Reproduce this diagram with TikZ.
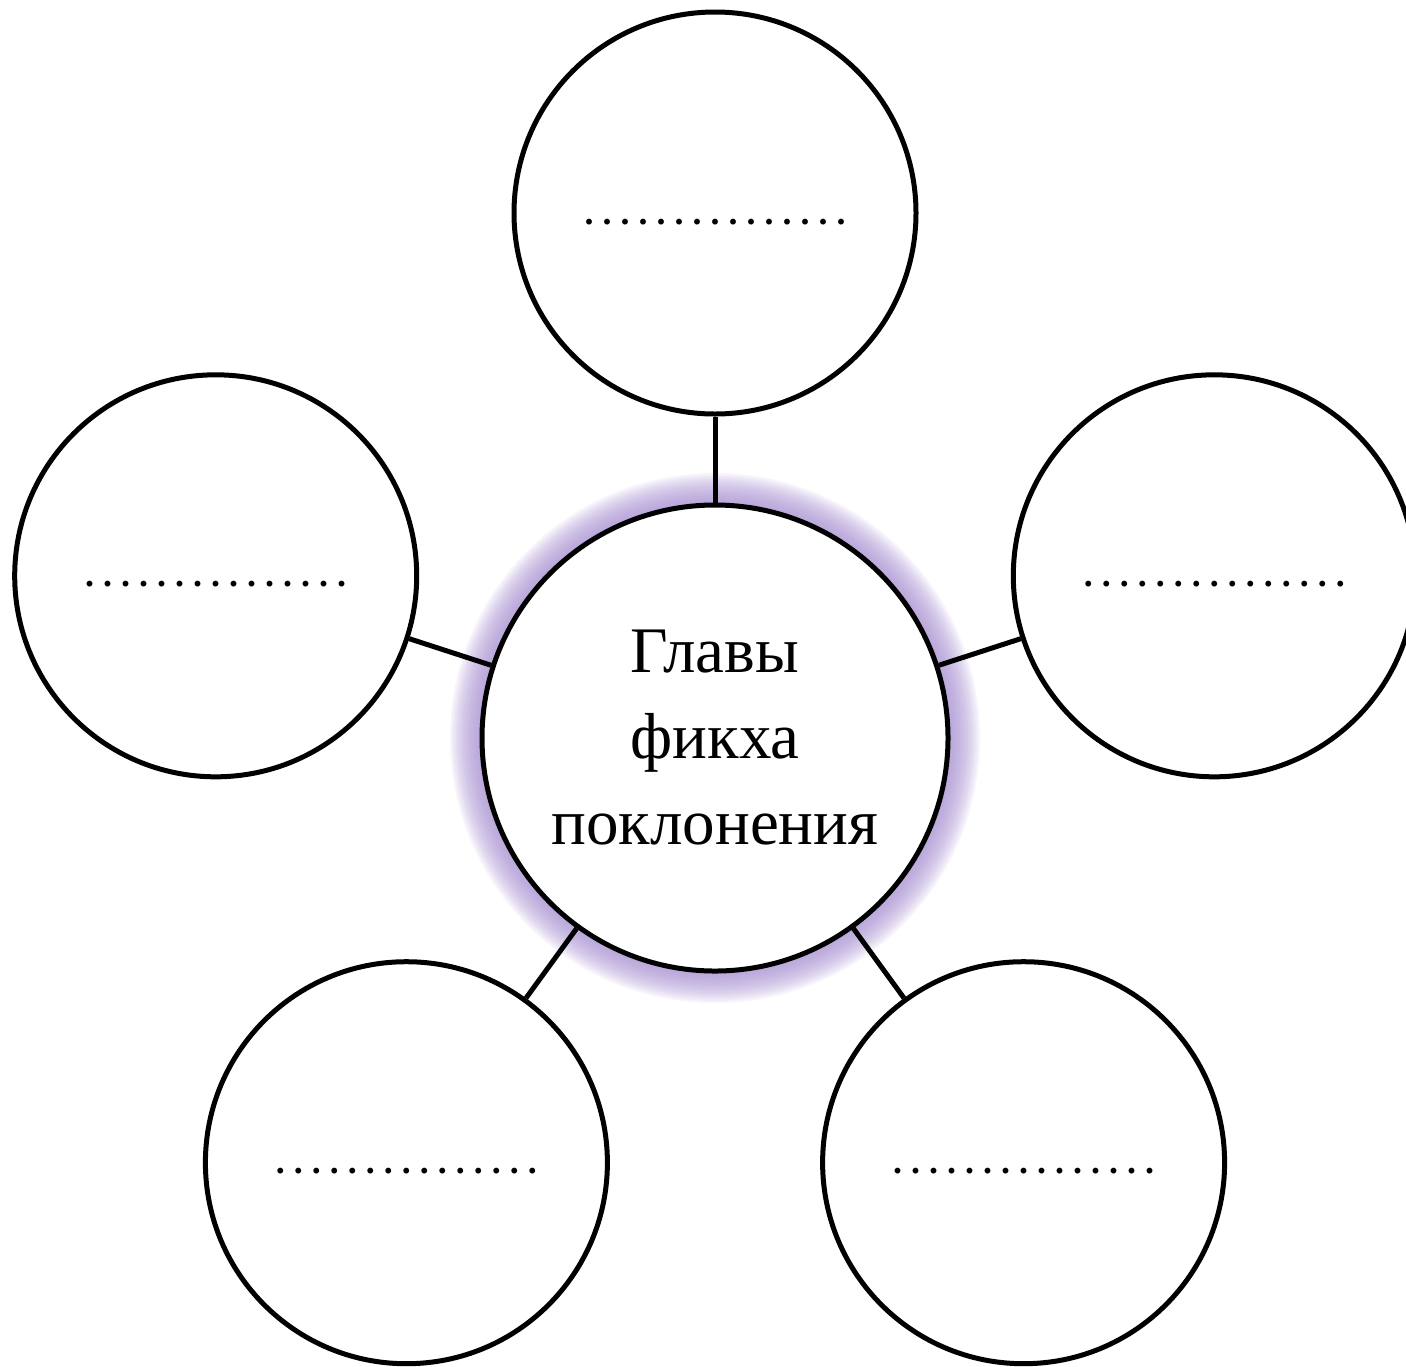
\documentclass[tikz,border=0pt]{standalone}
\usepackage{fontspec}
\setmainfont{Liberation Serif}
\usetikzlibrary{backgrounds}
\definecolor{glowc}{RGB}{166,142,208}
\begin{document}
\begin{tikzpicture}[x=0.5pt,y=-0.5pt,
  outer/.style={circle, draw, line width=2.5pt, fill=white, minimum size=201pt, inner sep=0pt,
    font=\fontsize{18}{20}\selectfont\bfseries\frenchspacing, text height=11pt, text depth=0pt},
  hub/.style={circle, draw, line width=2.5pt, fill=white, minimum size=233pt, inner sep=0pt,
    align=center, font=\fontsize{32.5}{43}\selectfont},
  link/.style={line width=2.5pt},
  glowring/.style={fill=glowc, fill opacity=0.09}]
\useasboundingbox (0,0) rectangle (1406,1366);
\clip (0,0) rectangle (1406,1366);
\node[hub] (hub) at (715,738) {Главы\\фикха\\поклонения};
\node[outer] (top) at (715,213) {. . . . . . . . . . . . . . .};
\node[outer] (left) at (215.7,575.8) {. . . . . . . . . . . . . . .};
\node[outer] (right) at (1214.3,575.8) {. . . . . . . . . . . . . . .};
\node[outer] (bl) at (406.4,1162.7) {. . . . . . . . . . . . . . .};
\node[outer] (br) at (1023.6,1162.7) {. . . . . . . . . . . . . . .};
\begin{scope}[on background layer]
  \foreach \k in {1,...,16}
    \fill[glowring] (hub.center) circle[radius=233+2*\k];
\end{scope}
\draw[link] (hub) -- (top);
\draw[link] (hub) -- (left);
\draw[link] (hub) -- (right);
\draw[link] (hub) -- (bl);
\draw[link] (hub) -- (br);
\end{tikzpicture}
\end{document}
